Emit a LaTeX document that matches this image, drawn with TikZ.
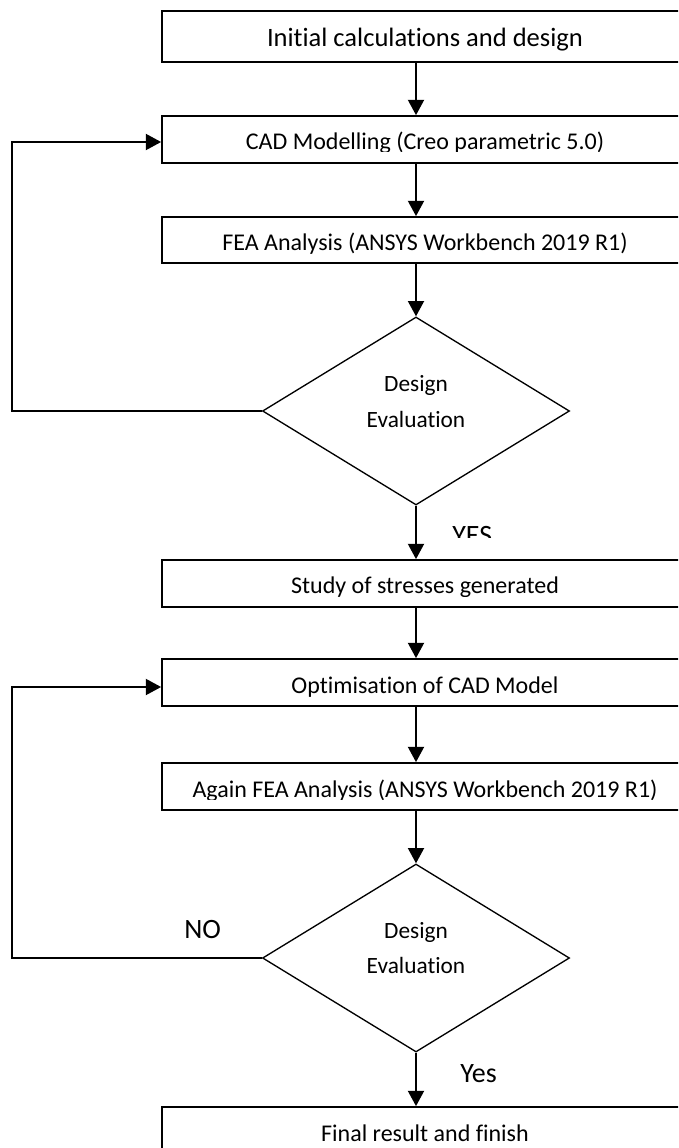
\documentclass[tikz,border=0pt]{standalone}
\usepackage{fontspec}
\setmainfont{Carlito}[Ligatures=NoCommon]
\usetikzlibrary{arrows.meta,shapes.geometric}
\begin{document}
\begin{tikzpicture}[x=0.75pt,y=-0.75pt,
  box/.style={draw, line width=1.3pt, rectangle, minimum width=394.5pt, minimum height=35.25pt, inner sep=0pt, text height=15.75pt, text depth=0pt, font=\fontsize{18}{21}\selectfont},
  boxtext/.style={inner sep=0pt, anchor=base, font=\fontsize{18}{21}\selectfont},
  dec/.style={draw, diamond, line width=1pt, minimum width=230.25pt, minimum height=141pt, inner sep=0pt},
  dectext/.style={inner sep=0pt, anchor=base, font=\fontsize{17.5}{21}\selectfont},
  lbl/.style={inner sep=0pt, anchor=base west, font=\fontsize{21}{25}\selectfont},
  flow/.style={line width=1.5pt, -{Triangle[length=11.5pt,width=12pt]}}
]
\useasboundingbox (0,0) rectangle (678,1148);
\clip (0,0) rectangle (678,1148);
\fill[white] (0,0) rectangle (678,1148);

% boxes
\node[box, font=\fontsize{19.9}{24}\selectfont, minimum height=38.25pt] (b1) at (425,36.5) {Initial calculations and design};
\node[box] (b2) at (425,139.5) {};
\node[box, minimum height=34.5pt] (b3) at (425,240) {FEA Analysis (ANSYS Workbench 2019 R1)};
\node[dec] (d1) at (416,411) {};
\node[box] (b4) at (425,583.5) {};
\node[box] (b5) at (425,682.5) {Optimisation of CAD Model};
\node[box] (b6) at (425,786.5) {};
\node[dec] (d2) at (416,958) {};
\node[box] (b7) at (425,1130.5) {Final result and finish};

% clipped box texts
\begin{scope}
\clip (170,120) rectangle (678,152);
\node[boxtext] (t2) at (425,150) {CAD Modelling (Creo parametric 5.0)};
\end{scope}
\begin{scope}
\clip (170,565) rectangle (678,596);
\node[boxtext] (t4) at (425,593) {Study of stresses generated};
\end{scope}
\begin{scope}
\clip (170,768) rectangle (678,799.5);
\node[boxtext] (t6) at (425,797) {Again FEA Analysis (ANSYS Workbench 2019 R1)};
\end{scope}

% diamond texts
\node[dectext] (d1a) at (416,391) {Design};
\node[dectext] (d1b) at (416,427) {Evaluation};
\node[dectext] (d2a) at (416,938) {Design};
\node[dectext] (d2b) at (416,973) {Evaluation};

% labels
\begin{scope}
\clip (440,505) rectangle (520,537.5);
\node[lbl] (yes1) at (452,544) {YES};
\end{scope}
\node[lbl] (no2) at (184,938) {NO};
\node[lbl] (yes2) at (460,1082) {Yes};

% connectors
\draw[flow] (b1.south -| d1.north) -- (b2.north -| d1.north);
\draw[flow] (b2.south -| d1.north) -- (b3.north -| d1.north);
\draw[flow] (b3.south -| d1.north) -- (d1.north);
\draw[flow] (d1.south) -- (b4.north -| d1.south);
\draw[flow] (b4.south -| d1.south) -- (b5.north -| d1.south);
\draw[flow] (b5.south -| d2.north) -- (b6.north -| d2.north);
\draw[flow] (b6.south -| d2.north) -- (d2.north);
\draw[flow] (d2.south) -- (b7.north -| d2.south);

\coordinate (c1) at (12,142);
\coordinate (c2) at (12,687);
\draw[flow] (d1.west) -| (c1) -- (c1 -| b2.west);
\draw[flow] (d2.west) -| (c2) -- (c2 -| b5.west);
\end{tikzpicture}
\end{document}
